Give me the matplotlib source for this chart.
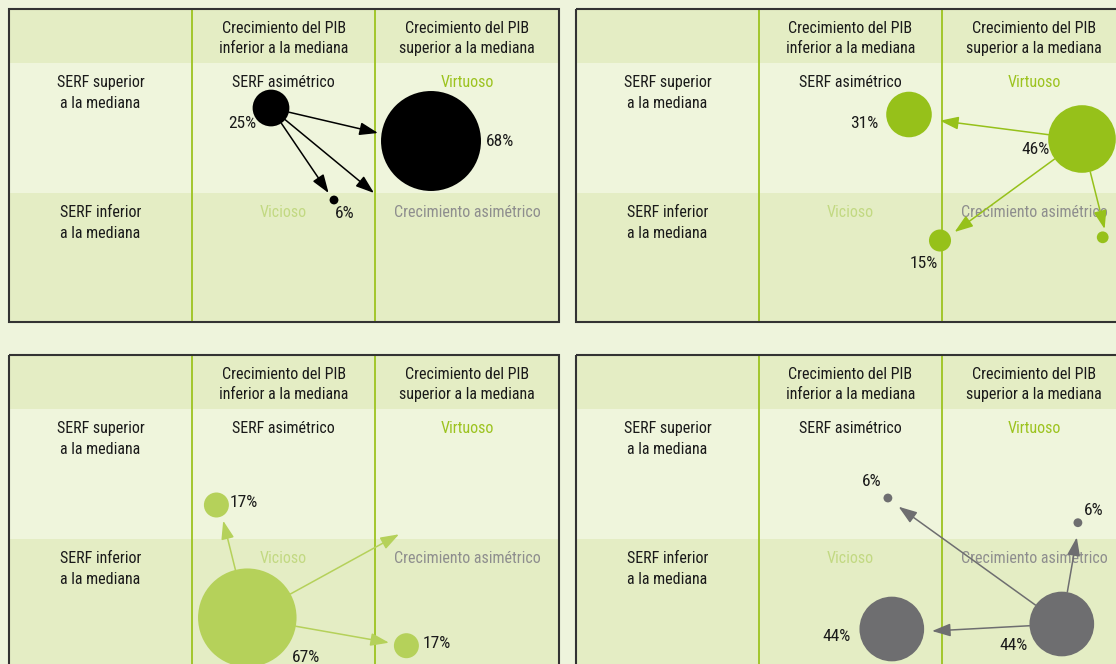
import numpy as np
import matplotlib.pyplot as plt
from matplotlib import font_manager
from matplotlib.patches import Rectangle, Circle

# -------------------------------------------------
# Font configuration (condensed face if there is one)
# -------------------------------------------------
installed = {f.name for f in font_manager.fontManager.ttflist}
if 'Roboto Condensed' in installed:
    base_font, base_size = 'Roboto Condensed', 11.5
elif 'Liberation Sans Narrow' in installed:
    base_font, base_size = 'Liberation Sans Narrow', 11.5
else:
    base_font, base_size = 'Liberation Sans', 10.5

plt.rcParams.update({
    'font.family': [base_font, 'DejaVu Sans'],
    'font.size': base_size,
})

# -------------------------------------------------
# Table texts
# -------------------------------------------------
col_headers = ["Crecimiento del PIB\ninferior a la mediana",
               "Crecimiento del PIB\nsuperior a la mediana"]
row_headers = ["SERF superior\na la mediana",
               "SERF inferior\na la mediana"]
cell_names = ["SERF asimétrico", "Virtuoso", "Vicioso", "Crecimiento asimétrico"]

# -------------------------------------------------
# Shares (%) per panel
# -------------------------------------------------
tl_shares = [25, 68, 6]
tr_shares = [31, 46, 15, 8]
bl_shares = [17, 67, 17]
br_shares = [6, 6, 44, 44]

tl_labels = ["25%", "68%", "6%"]
tr_labels = ["31%", "46%", "15%", ""]
bl_labels = ["17%", "67%", "17%"]
br_labels = ["6%", "6%", "44%", "44%"]

# -------------------------------------------------
# Layout (panel-local pixel coordinates)
# -------------------------------------------------
PANEL_W, PANEL_H = 550, 313
COL_X = [0, 183, 366, 550]
ROW_Y = [0, 54, 184, 313]
RADIUS_PER_PCT = 0.735

BG = '#eef4dc'
HEAD = '#e4edc4'
ROW1 = '#eff5dc'
ROW2 = '#e4edc4'
DIV = '#9cc31f'
BORDER = '#333333'
NAME_COLORS = ['#1a1a1a', '#9cc31f', '#c2d982', '#8e8e8e']

panels = [
    dict(origin=(9, 9), shares=tl_shares, labels=tl_labels, color='#000000',
         centers=[(262, 99), (422, 132), (325, 191)],
         label_pos=[(233, 114, 'center'), (491, 133, 'center'), (336, 204, 'center')],
         targets=[(369, 124), (319.6, 184), (365, 184)],
         arrow_src=[0, 0, 0]),
    dict(origin=(576, 9), shares=tr_shares, labels=tr_labels, color='#96c11a',
         centers=[(333, 105.5), (506, 130), (364, 231.5), (526.7, 228.3)],
         label_pos=[(288.6, 114, 'center'), (459.7, 140, 'center'),
                    (348, 255, 'center'), (0, 0, 'center')],
         targets=[(364, 111.7), (378.6, 223), (528.6, 220)],
         arrow_src=[1, 1, 1]),
    dict(origin=(9, 355), shares=bl_shares, labels=bl_labels, color='#b5d15a',
         centers=[(207.4, 150), (238.3, 262.7), (397.4, 290.7)],
         label_pos=[(221, 147, 'left'), (297, 303, 'center'), (413.5, 288, 'left')],
         targets=[(214.2, 165.7), (390, 179.3), (380, 287.7)],
         arrow_src=[1, 1, 1]),
    dict(origin=(576, 355), shares=br_shares, labels=br_labels, color='#6e6e70',
         centers=[(311.9, 143), (501.9, 167.7), (315.8, 274), (485.8, 269)],
         label_pos=[(295.8, 126.7, 'center'), (517.6, 155.7, 'center'),
                    (260.8, 281.7, 'center'), (437.6, 290.7, 'center')],
         targets=[(322.6, 151.7), (500.8, 182.3), (356, 276)],
         arrow_src=[3, 3, 3]),
]

FIG_W, FIG_H = 1116, 664
fig = plt.figure(figsize=(FIG_W / 100, FIG_H / 100), dpi=100)
fig.patch.set_facecolor(BG)

for p in panels:
    ox, oy = p['origin']
    ax = fig.add_axes([ox / FIG_W, 1 - (oy + PANEL_H) / FIG_H,
                       PANEL_W / FIG_W, PANEL_H / FIG_H])
    ax.set_xlim(0, PANEL_W)
    ax.set_ylim(PANEL_H, 0)
    ax.axis('off')

    # backgrounds
    fills = [HEAD, ROW1, ROW2]
    for i in range(3):
        ax.add_patch(Rectangle((0, ROW_Y[i]), PANEL_W, ROW_Y[i + 1] - ROW_Y[i],
                               facecolor=fills[i], edgecolor='none', zorder=0))
    for x in COL_X[1:3]:
        ax.plot([x, x], [0, PANEL_H], color=DIV, lw=1.3, zorder=1)
    ax.add_patch(Rectangle((0, 0), PANEL_W, PANEL_H, facecolor='none',
                           edgecolor=BORDER, lw=1.5, zorder=6, clip_on=False))

    # headers
    for j, txt in enumerate(col_headers):
        xc = (COL_X[j + 1] + COL_X[j + 2]) / 2
        ax.text(xc, 29.5, txt, ha='center', va='center', linespacing=1.42,
                color='#1a1a1a', zorder=5)
    for i, txt in enumerate(row_headers):
        ax.text(COL_X[1] / 2, ROW_Y[i + 1] + 30, txt, ha='center', va='center',
                linespacing=1.42, color='#1a1a1a', zorder=5)
    for k, txt in enumerate(cell_names):
        r, c = divmod(k, 2)
        xc = (COL_X[c + 1] + COL_X[c + 2]) / 2
        ax.text(xc, ROW_Y[r + 1] + 19.5, txt, ha='center', va='center',
                color=NAME_COLORS[k], zorder=2)

    # bubbles
    radii = [RADIUS_PER_PCT * s for s in p['shares']]
    for (cx, cy), r in zip(p['centers'], radii):
        ax.add_patch(Circle((cx, cy), r, facecolor=p['color'], edgecolor='none',
                            zorder=3))
    for (lx, ly, ha), lab in zip(p['label_pos'], p['labels']):
        if lab:
            ax.text(lx, ly, lab, ha=ha, va='center', fontsize=base_size + 1,
                    color='#1a1a1a', zorder=5)

    # transitions
    for s, (tx, ty) in zip(p['arrow_src'], p['targets']):
        cx, cy = p['centers'][s]
        d = np.array([tx - cx, ty - cy])
        d = d / np.hypot(*d)
        sx, sy = cx + d[0] * radii[s], cy + d[1] * radii[s]
        ax.annotate('', xy=(tx, ty), xytext=(sx, sy), zorder=4,
                    arrowprops=dict(arrowstyle='-|>,head_length=0.8,head_width=0.28',
                                    color=p['color'], lw=1.1, mutation_scale=14,
                                    shrinkA=0, shrinkB=0))

plt.savefig("out.png", dpi=100, facecolor=fig.get_facecolor())
